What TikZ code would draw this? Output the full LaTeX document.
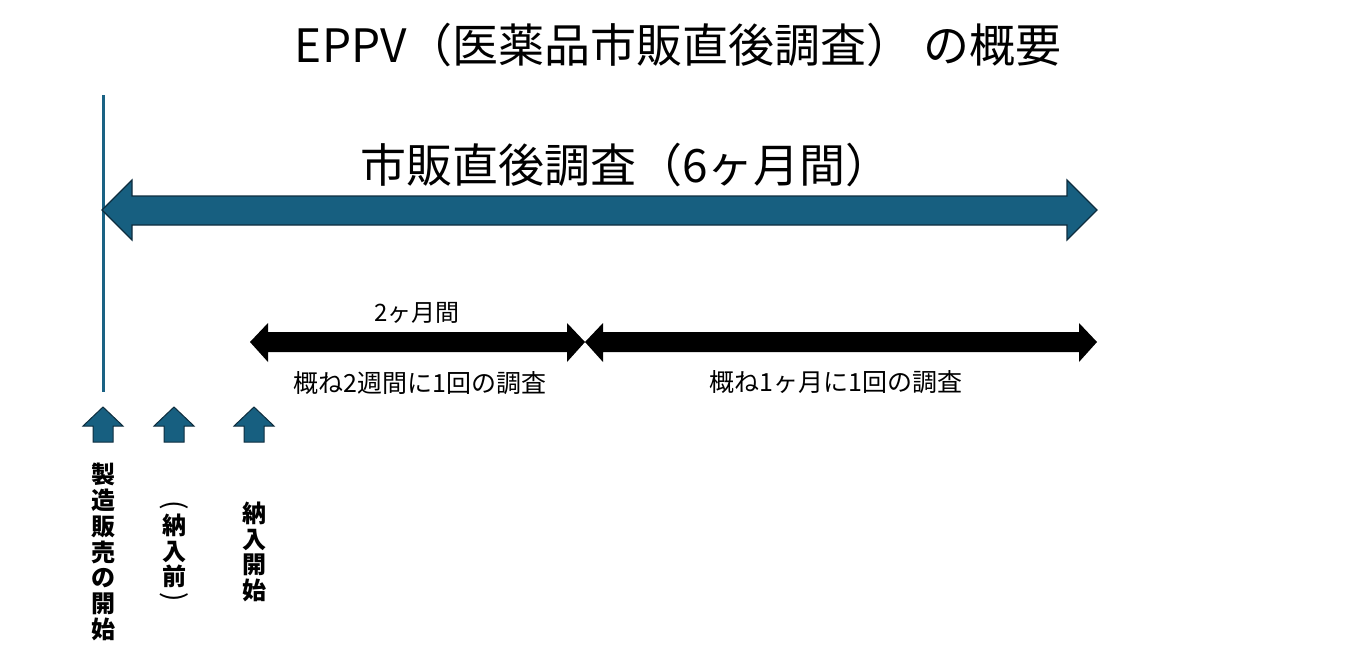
\documentclass[tikz,border=0pt]{standalone}
\usepackage{fontspec}
\setmainfont{Noto Sans CJK JP}
\newfontfamily\cjk{Noto Sans CJK JP}
\definecolor{tealfill}{RGB}{23,95,128}
\definecolor{tealedge}{RGB}{14,45,62}
\definecolor{tealline}{RGB}{26,98,132}
\tikzset{
  bigarrow/.style={fill=tealfill,draw=tealedge,line width=1.2pt,line join=miter},
  blackarrow/.style={fill=black,draw=none},
  uparrow/.style={fill=tealfill,draw=tealedge,line width=1pt,line join=miter},
  vlabel/.style={inner sep=0pt,align=center,font=\cjk\bfseries\fontsize{24}{25.7}\selectfont},
  smalltext/.style={inner sep=0pt,font=\cjk\fontsize{25}{28}\selectfont},
  vparen/.style={inner sep=0pt,rotate=-90,font=\cjk\fontsize{28}{30}\selectfont},
}
\begin{document}
\begin{tikzpicture}[x=1pt,y=-1pt]
\useasboundingbox (0,0) rectangle (1348,662);
% title
\node[inner sep=0pt,font=\cjk\fontsize{46}{52}\selectfont] (title) at (678,45) {EPPV（医薬品市販直後調査） の概要};
% vertical start line
\coordinate (vtop) at (103,95);
\coordinate (vbot) at (103,392);
\draw[tealline,line width=3pt] (vtop) -- (vbot);
% big double arrow
\draw[bigarrow] (102,210) -- (132,180) -- (132,196) -- (1067,196) -- (1067,180) -- (1097,210)
  -- (1067,240) -- (1067,225) -- (132,225) -- (132,240) -- cycle;
\node[inner sep=0pt,font=\cjk\fontsize{46}{50}\selectfont] (sixm) at (626,165) {市販直後調査（6ヶ月間）};
% black arrows
\fill[blackarrow] (250,342) -- (268,323) -- (268,332) -- (567,332) -- (567,323) -- (585,342)
  -- (567,362) -- (567,352) -- (268,352) -- (268,362) -- cycle;
\fill[blackarrow] (585,342) -- (603,323) -- (603,332) -- (1079,332) -- (1079,323) -- (1097,342)
  -- (1079,362) -- (1079,352) -- (603,352) -- (603,362) -- cycle;
\node[smalltext,font=\cjk\fontsize{24}{28}\selectfont] (twom) at (417,313) {2ヶ月間};
\node[smalltext] (biweek) at (420,383) {概ね2週間に1回の調査};
\node[smalltext] (month) at (836,382) {概ね1ヶ月に1回の調査};
% small up arrows
\foreach \x/\n in {103/ua,174/ub,254/uc}{
  \draw[uparrow] (\x,407) -- (\x+20,426) -- (\x+10,426) -- (\x+10,442) -- (\x-10,442) -- (\x-10,426) -- (\x-20,426) -- cycle;
}
% vertical labels
\node[vlabel] (start) at (103,552) {製\\造\\販\\売\\の\\開\\始};
\node[vlabel] (before) at (174,551) {納\\入\\前};
\node[vparen] (pl) at (174,505) {(};
\node[vparen] (pr) at (174,597) {)};
\node[vlabel] (deliv) at (254,552) {納\\入\\開\\始};
\end{tikzpicture}
\end{document}
